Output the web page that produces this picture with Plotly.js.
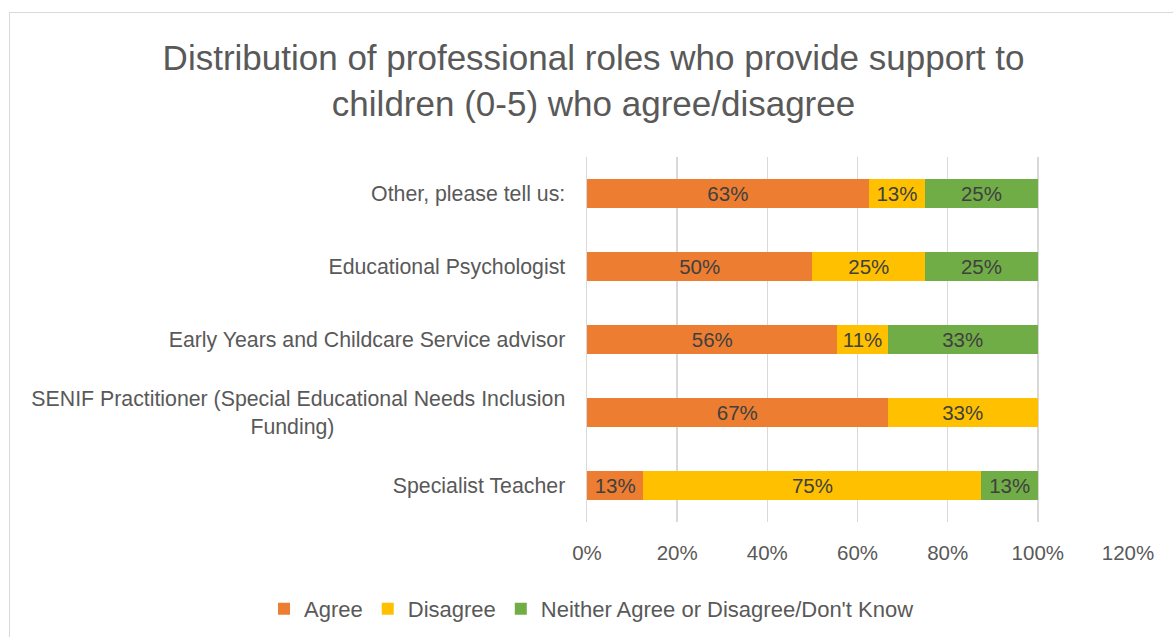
<!DOCTYPE html>
<html>
<head>
<meta charset="utf-8">
<script src="https://cdn.plot.ly/plotly-3.0.1.min.js"></script>
<style>
  html, body { margin: 0; padding: 0; background: #ffffff; }
  #frame { position: absolute; left: 9px; top: 12px; width: 1180px; height: 640px;
           border: 1.5px solid #d9d9d9; box-sizing: border-box; }
  #chart { position: absolute; left: 0; top: 0; width: 1173px; height: 637px; }
</style>
</head>
<body>
<div id="frame"></div>
<div id="chart"></div>
<script>
// Categories (top to bottom as shown)
const categories = [
  "Other, please tell us:",
  "Educational Psychologist",
  "Early Years and Childcare Service advisor",
  "SENIF Practitioner (Special Educational Needs Inclusion<br>Funding)" + "\u00A0".repeat(39),
  "Specialist Teacher"
];
// Series values (percent of respondents)
const agree     = [62.5, 50, 55.56, 66.67, 12.5];
const disagree  = [12.5, 25, 11.11, 33.33, 75];
const neither   = [25,   25, 33.33, 0,     12.5];

const seriesNames = ["Agree", "Disagree", "Neither Agree or Disagree/Don't Know"];
const xTickVals = [0, 20, 40, 60, 80, 100, 120];
const xTickText = ["0%", "20%", "40%", "60%", "80%", "100%", "120%"];

const FONT = "'Liberation Sans', Arial, sans-serif";
const colors = ["#ED7D31", "#FFC000", "#70AD47"];
const seriesData = [agree, disagree, neither];

const traces = seriesData.map((vals, i) => ({
  type: "bar",
  orientation: "h",
  name: seriesNames[i],
  y: categories,
  x: vals,
  marker: { color: colors[i], line: { width: 0 } },
  texttemplate: "%{x:.0f}%",
  textposition: "inside",
  insidetextanchor: "middle",
  textfont: { family: FONT, size: 20.5, color: "#404040" },
  hoverinfo: "skip"
}));

const layout = {
  width: 1173,
  height: 637,
  paper_bgcolor: "rgba(0,0,0,0)",
  plot_bgcolor: "rgba(0,0,0,0)",
  barmode: "stack",
  bargap: 0.59,
  margin: { l: 587, r: 45, t: 157, b: 115, autoexpand: false },
  font: { family: FONT, color: "#595959" },
  uniformtext: { mode: "hide", minsize: 20 },
  title: {
    text: "Distribution of professional roles who provide support to<br>children (0-5) who agree/disagree",
    font: { family: FONT, size: 35, color: "#595959" },
    x: 0.506, xanchor: "center", xref: "container",
    y: 0.89, yanchor: "top", yref: "container"
  },
  xaxis: {
    range: [0, 120],
    tickmode: "array",
    tickvals: xTickVals,
    ticktext: xTickText,
    showgrid: true,
    gridcolor: "#d9d9d9",
    gridwidth: 1.5,
    zeroline: false,
    showline: false,
    ticks: "",
    ticklabelstandoff: 16,
    tickfont: { family: FONT, size: 20.5, color: "#595959" },
    fixedrange: true
  },
  yaxis: {
    autorange: "reversed",
    showgrid: false,
    showline: true,
    linecolor: "#d9d9d9",
    linewidth: 1.5,
    ticks: "",
    ticklabelstandoff: 16,
    tickfont: { family: FONT, size: 21.3, color: "#595959" },
    fixedrange: true
  },
  showlegend: true,
  legend: {
    orientation: "h",
    x: -0.597, xref: "paper", xanchor: "left",
    y: -0.238, yref: "paper", yanchor: "middle",
    font: { family: FONT, size: 22, color: "#595959" },
    traceorder: "normal",
    itemwidth: 30
  }
};

Plotly.newPlot("chart", traces, layout, { displayModeBar: false, staticPlot: true });
</script>
</body>
</html>
